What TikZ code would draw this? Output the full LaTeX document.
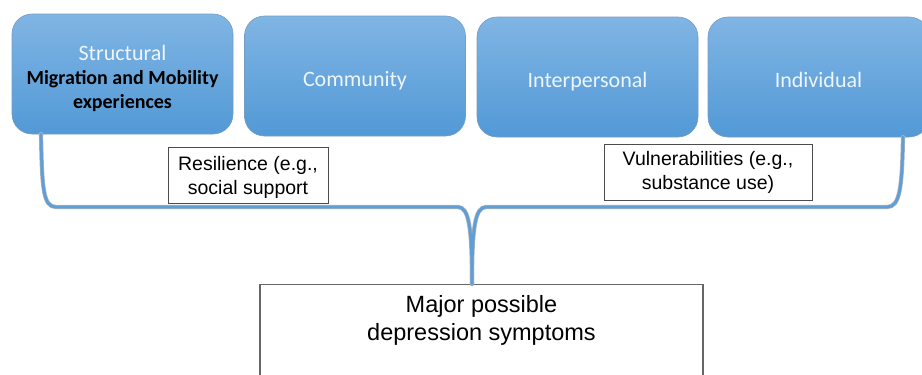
\documentclass[tikz,border=0pt]{standalone}
\usepackage{fontspec}
\setmainfont{Liberation Sans}
\newfontfamily\boxfont{Carlito}
\definecolor{boxtop}{RGB}{128,181,228}
\definecolor{boxbottom}{RGB}{82,153,214}
\definecolor{boxedge}{RGB}{118,156,196}
\definecolor{braceblue}{RGB}{96,158,214}
\definecolor{braceshade}{RGB}{170,178,188}
\definecolor{boxtext}{RGB}{238,245,252}
\begin{document}
\begin{tikzpicture}[x=1pt,y=-1pt,
  level/.style={rounded corners=20pt, minimum width=221pt, minimum height=120pt,
    top color=boxtop, bottom color=boxbottom, draw=boxedge, line width=0.6pt, inner sep=0pt},
  leveltext/.style={font=\boxfont\fontsize{22}{25}\selectfont, text=boxtext, align=center, inner sep=0pt},
  tag/.style={draw=black!70, line width=0.9pt, fill=white,
    font=\fontsize{19.5}{24}\selectfont, align=center, inner sep=0pt},
  tagtext/.style={font=\fontsize{19.5}{24}\selectfont, align=center, inner sep=0pt},
  outcome/.style={draw=black!60, line width=1.1pt, fill=white, inner sep=0pt},
  braceshadow/.style={line width=4.2pt, draw=braceshade, line cap=round, line join=round},
  brace/.style={line width=2.8pt, draw=braceblue, line cap=round, line join=round}
]
\useasboundingbox (0,0) rectangle (922,375);
\clip (0,0) rectangle (922,375);

% four influence levels
\node[level] (structural) at (122.5,74) {};
\node[level] (community) at (355,76) {};
\node[level] (interpersonal) at (587.5,77) {};
\node[level] (individual) at (818.5,77) {};

\node[leveltext, yshift=-4pt] (structuraltext) at (structural.center) {Structural\\[-1pt]
  \textcolor{black}{\bfseries\fontsize{20}{24}\selectfont Migration and Mobility}\\[-1pt]
  \textcolor{black}{\bfseries\fontsize{20}{24}\selectfont experiences}};
\node[leveltext, anchor=base, yshift=-10pt] (communitytext) at (community.center) {Community};
\node[leveltext, anchor=base, yshift=-10pt] (interpersonaltext) at (interpersonal.center) {Interpersonal};
\node[leveltext, anchor=base, yshift=-10pt] (individualtext) at (individual.center) {Individual};

% outcome box (runs off the lower edge)
\node[outcome, minimum width=443pt, minimum height=120pt, anchor=north] (symptoms) at (481.5,284) {};
\node[font=\fontsize{23.5}{28}\selectfont, align=center, inner sep=0pt, anchor=north] (symtext)
  at (481.5,295.5) {Major possible\\depression symptoms};

% brace ends under the outer boxes and its point on the outcome box
\coordinate (lefttip) at (41,134);
\coordinate (righttip) at (903,137);
\coordinate (joint) at (472,284);

% brace joining all levels into the outcome
\foreach \sty in {braceshadow,brace}{
  \draw[\sty] (lefttip) .. controls (42,188) and (43,207) .. (56,207) -- (458,207)
    .. controls (469,207) and (472,228) .. (joint);
  \draw[\sty] (righttip) .. controls (902,188) and (900,207) .. (887,207) -- (486,207)
    .. controls (475,207) and (472,228) .. (joint);
}

% moderating factors: framed boxes with their wording set separately
\node[tag, minimum width=160pt, minimum height=56pt] (resilience) at (248,175) {};
\node[tagtext, yshift=-2.5pt] (resiliencetext) at (resilience.center)
  {Resilience (e.g.,\\social support};
\node[tag, minimum width=208pt, minimum height=56pt] (vulner) at (708,172) {};
\node[tagtext] (vulnertext) at (vulner.center)
  {Vulnerabilities (e.g.,\\substance use)};
\end{tikzpicture}
\end{document}
